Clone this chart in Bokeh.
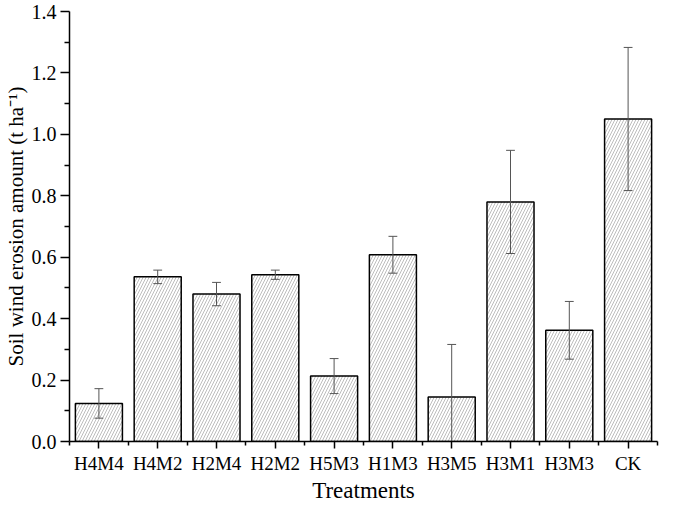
from bokeh.plotting import figure
from bokeh.models import ColumnDataSource, FixedTicker, Range1d, NumeralTickFormatter
from bokeh.embed import file_html
from bokeh.resources import INLINE

categories = ["H4M4", "H4M2", "H2M4", "H2M2", "H5M3", "H1M3", "H3M5", "H3M1", "H3M3", "CK"]
values = [0.124, 0.536, 0.480, 0.543, 0.213, 0.608, 0.145, 0.780, 0.362, 1.050]
errors = [0.048, 0.022, 0.038, 0.015, 0.057, 0.060, 0.171, 0.168, 0.094, 0.233]
y_major = [0.0, 0.2, 0.4, 0.6, 0.8, 1.0, 1.2, 1.4]
y_minor = [0.1, 0.3, 0.5, 0.7, 0.9, 1.1, 1.3]

xs = list(range(len(categories)))
cap = 0.075
src = ColumnDataSource(dict(
    x=xs,
    top=values,
    upper=[v + e for v, e in zip(values, errors)],
    lower=[v - e for v, e in zip(values, errors)],
    xl=[x - cap for x in xs],
    xr=[x + cap for x in xs],
))

FONT = "Liberation Serif"

p = figure(width=659, height=505, output_backend="svg", toolbar_location=None,
           x_range=Range1d(-0.5, len(categories) - 0.5), y_range=Range1d(0, 1.4),
           min_border_left=59, min_border_right=2, min_border_top=11, min_border_bottom=55)
p.outline_line_color = None
p.xgrid.visible = False
p.ygrid.visible = False

p.vbar(x="x", top="top", width=0.8, source=src, fill_color="white",
       line_color="black", line_width=1.5,
       hatch_pattern="/", hatch_color="#bdbdbd", hatch_scale=6, hatch_weight=1)

p.segment(x0="x", y0="lower", x1="x", y1="upper", source=src, line_color="#555555", line_width=1)
p.segment(x0="xl", y0="upper", x1="xr", y1="upper", source=src, line_color="#555555", line_width=1)
p.segment(x0="xl", y0="lower", x1="xr", y1="lower", source=src, line_color="#555555", line_width=1)

# x axis
p.xaxis.ticker = FixedTicker(ticks=xs, minor_ticks=[x - 0.5 for x in xs] + [len(xs) - 0.5])
p.xaxis.major_label_overrides = {x: c for x, c in zip(xs, categories)}
p.xaxis.axis_label = "Treatments"

# y axis
p.yaxis.ticker = FixedTicker(ticks=y_major, minor_ticks=y_minor)
p.yaxis.formatter = NumeralTickFormatter(format="0.0")
p.yaxis.axis_label = "Soil wind erosion amount (t ha\u207b\u00b9)"

for ax in (p.xaxis[0], p.yaxis[0]):
    ax.axis_line_width = 1.5
    ax.axis_line_color = "black"
    ax.major_tick_line_color = "black"
    ax.minor_tick_line_color = "black"
    ax.major_tick_line_width = 1.5
    ax.minor_tick_line_width = 1.5
    ax.major_tick_in = 0
    ax.minor_tick_in = 0
    ax.major_label_text_font = FONT
    ax.major_label_text_color = "black"
    ax.axis_label_text_font = FONT
    ax.axis_label_text_font_style = "normal"
    ax.axis_label_text_color = "black"

p.xaxis.major_label_text_font_size = "19px"
p.yaxis.major_label_text_font_size = "20px"
p.xaxis.axis_label_text_font_size = "23px"
p.yaxis.axis_label_text_font_size = "21px"
p.xaxis.major_tick_out = 7
p.xaxis.minor_tick_out = 4
p.xaxis.major_label_standoff = 4
p.xaxis.axis_label_standoff = 1
p.yaxis.major_tick_out = 9
p.yaxis.minor_tick_out = 5
p.yaxis.major_label_standoff = 4
p.yaxis.axis_label_standoff = 1

open("out.html", "w").write(file_html(p, INLINE))
